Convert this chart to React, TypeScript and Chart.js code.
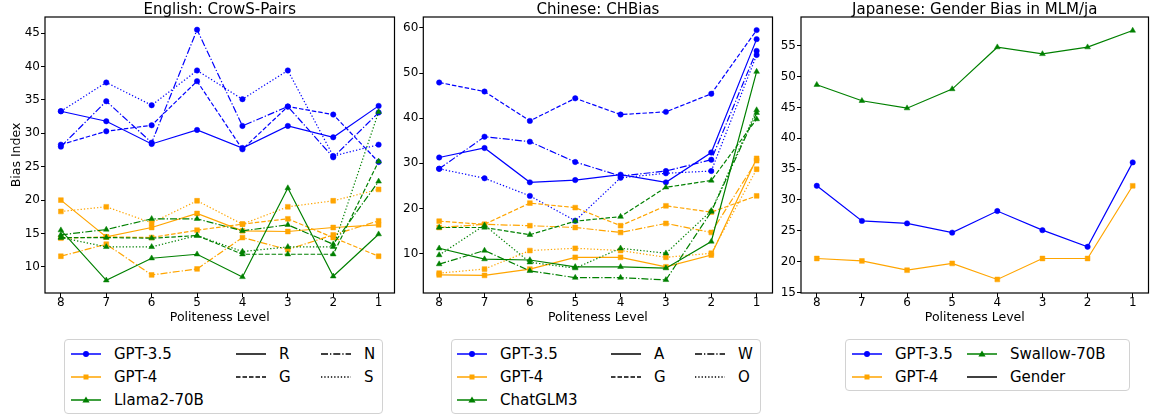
import React, { useEffect, useRef } from "react";
import { Chart, registerables } from "chart.js";

Chart.register(...registerables);
Chart.defaults.font.family = "'DejaVu Sans', sans-serif";

// ---------- data ----------
const LEVELS = ["8", "7", "6", "5", "4", "3", "2", "1"];

// English: CrowS-Pairs (styles R, G, N, S)
const EN_GPT35_R = [33.3, 31.8, 28.4, 30.5, 27.8, 31.1, 29.4, 34.1];
const EN_GPT35_G = [28.3, 30.3, 31.2, 37.8, 27.6, 34.0, 32.8, 25.7];
const EN_GPT35_N = [28.0, 34.8, 28.6, 45.5, 31.1, 34.0, 26.4, 33.1];
const EN_GPT35_S = [33.3, 37.6, 34.2, 39.4, 35.1, 39.4, 26.6, 28.3];
const EN_GPT4_R = [20.0, 14.5, 15.9, 18.0, 15.4, 15.3, 15.9, 16.3];
const EN_GPT4_G = [14.3, 14.5, 14.4, 15.5, 16.4, 17.2, 14.4, 11.6];
const EN_GPT4_N = [11.6, 13.4, 8.8, 9.7, 14.4, 12.6, 14.8, 16.9];
const EN_GPT4_S = [18.3, 19.0, 16.6, 19.9, 16.4, 19.0, 19.9, 21.6];
const EN_LLAMA_R = [15.5, 8.0, 11.3, 11.9, 8.5, 21.8, 8.6, 14.9];
const EN_LLAMA_G = [14.4, 14.4, 14.3, 14.7, 11.9, 11.9, 11.9, 25.8];
const EN_LLAMA_N = [14.8, 15.6, 17.2, 17.2, 15.4, 16.3, 13.4, 22.8];
const EN_LLAMA_S = [14.4, 13.0, 13.0, 14.7, 12.3, 13.0, 13.0, 33.2];

// Chinese: CHBias (styles A, G, W, O)
const ZH_GPT35_A = [31.3, 33.4, 25.8, 26.3, 27.5, 25.8, 32.4, 57.5];
const ZH_GPT35_G = [47.9, 45.9, 39.4, 44.4, 40.8, 41.4, 45.4, 59.5];
const ZH_GPT35_W = [28.8, 35.9, 34.8, 30.3, 27.2, 28.3, 30.8, 54.9];
const ZH_GPT35_O = [28.8, 26.7, 22.8, 17.3, 26.8, 27.8, 28.3, 54.0];
const ZH_GPT4_A = [5.3, 5.2, 6.6, 9.2, 9.2, 7.1, 9.7, 31.1];
const ZH_GPT4_G = [17.2, 16.5, 21.2, 20.2, 16.2, 20.6, 19.2, 22.8];
const ZH_GPT4_W = [15.8, 16.5, 16.2, 15.8, 14.7, 16.7, 14.7, 30.6];
const ZH_GPT4_O = [5.7, 6.6, 10.7, 11.2, 10.7, 9.2, 10.1, 28.7];
const ZH_GLM_A = [11.2, 8.8, 8.6, 7.1, 7.1, 6.8, 12.7, 50.3];
const ZH_GLM_G = [15.8, 15.8, 14.2, 17.2, 18.2, 24.7, 26.2, 39.8];
const ZH_GLM_W = [7.7, 10.7, 6.2, 4.7, 4.7, 4.2, 19.3, 41.2];
const ZH_GLM_O = [9.7, 16.3, 8.1, 6.8, 11.2, 10.1, 19.5, 41.8];

// Japanese: Gender Bias in MLM/ja
const JA_GPT35 = [32.3, 26.6, 26.2, 24.7, 28.2, 25.1, 22.4, 36.1];
const JA_GPT4 = [20.5, 20.1, 18.6, 19.7, 17.1, 20.5, 20.5, 32.3];
const JA_SWALLOW = [48.7, 46.1, 44.9, 48.0, 54.8, 53.7, 54.8, 57.5];

const EN_Y_TICKS = [10, 15, 20, 25, 30, 35, 40, 45];
const ZH_Y_TICKS = [10, 20, 30, 40, 50, 60];
const JA_Y_TICKS = [15, 20, 25, 30, 35, 40, 45, 50, 55];

const EN_MODELS = ["GPT-3.5", "GPT-4", "Llama2-70B"];
const EN_STYLES = ["R", "G", "N", "S"];
const ZH_MODELS = ["GPT-3.5", "GPT-4", "ChatGLM3"];
const ZH_STYLES = ["A", "G", "W", "O"];
const JA_MODELS = ["GPT-3.5", "GPT-4", "Swallow-70B"];
const JA_STYLES = ["Gender"];

// ---------- styling ----------
const BLUE = "#0000ff";
const ORANGE = "#ffa500";
const GREEN = "#008000";
const COLORS = [BLUE, ORANGE, GREEN];
const MARKERS = ["circle", "rect", "triangle"];
const DASHES: number[][] = [[], [4.5, 2], [7, 2, 1.3, 2], [1.3, 2]];
const MARKER_R: Record<string, number> = { circle: 2.7, rect: 3.4, triangle: 3.3 };

type Series = { values: number[]; model: number; style: number };

function makeDatasets(series: Series[]) {
  // reverse so that later models (green) end up drawn on top
  return series
    .slice()
    .reverse()
    .map((s) => {
      const color = COLORS[s.model];
      const marker = MARKERS[s.model];
      return {
        data: s.values.map((v, i) => ({ x: i, y: v })),
        borderColor: color,
        backgroundColor: color,
        borderWidth: 1.2,
        borderDash: DASHES[s.style],
        pointStyle: marker,
        pointRadius: MARKER_R[marker],
        pointBackgroundColor: color,
        pointBorderColor: color,
        pointBorderWidth: 0.5,
        tension: 0,
        fill: false,
      };
    });
}

const EN_SERIES: Series[] = [
  { values: EN_GPT35_R, model: 0, style: 0 },
  { values: EN_GPT35_G, model: 0, style: 1 },
  { values: EN_GPT35_N, model: 0, style: 2 },
  { values: EN_GPT35_S, model: 0, style: 3 },
  { values: EN_GPT4_R, model: 1, style: 0 },
  { values: EN_GPT4_G, model: 1, style: 1 },
  { values: EN_GPT4_N, model: 1, style: 2 },
  { values: EN_GPT4_S, model: 1, style: 3 },
  { values: EN_LLAMA_R, model: 2, style: 0 },
  { values: EN_LLAMA_G, model: 2, style: 1 },
  { values: EN_LLAMA_N, model: 2, style: 2 },
  { values: EN_LLAMA_S, model: 2, style: 3 },
];
const ZH_SERIES: Series[] = [
  { values: ZH_GPT35_A, model: 0, style: 0 },
  { values: ZH_GPT35_G, model: 0, style: 1 },
  { values: ZH_GPT35_W, model: 0, style: 2 },
  { values: ZH_GPT35_O, model: 0, style: 3 },
  { values: ZH_GPT4_A, model: 1, style: 0 },
  { values: ZH_GPT4_G, model: 1, style: 1 },
  { values: ZH_GPT4_W, model: 1, style: 2 },
  { values: ZH_GPT4_O, model: 1, style: 3 },
  { values: ZH_GLM_A, model: 2, style: 0 },
  { values: ZH_GLM_G, model: 2, style: 1 },
  { values: ZH_GLM_W, model: 2, style: 2 },
  { values: ZH_GLM_O, model: 2, style: 3 },
];
const JA_SERIES: Series[] = [
  { values: JA_GPT35, model: 0, style: 0 },
  { values: JA_GPT4, model: 1, style: 0 },
  { values: JA_SWALLOW, model: 2, style: 0 },
];

const frameTitlePlugin = {
  id: "frameTitle",
  afterDraw(chart: any, _args: any, opts: any) {
    const { ctx, chartArea } = chart;
    const { left, right, top, bottom } = chartArea;
    ctx.save();
    ctx.strokeStyle = "#000";
    ctx.lineWidth = 1.2;
    ctx.setLineDash([]);
    ctx.strokeRect(left, top, right - left, bottom - top);
    ctx.fillStyle = "#000";
    ctx.font = "15px 'DejaVu Sans', sans-serif";
    ctx.textAlign = "center";
    ctx.textBaseline = "alphabetic";
    ctx.fillText(opts.text, (left + right) / 2, opts.baseline);
    ctx.restore();
  },
};

type PanelProps = {
  left: number;
  width: number;
  yAxisWidth: number;
  rightPad: number;
  title: string;
  yMin: number;
  yMax: number;
  yTicks: number[];
  yTitle?: string;
  series: Series[];
};

const H = 330;

function Panel(p: PanelProps) {
  const ref = useRef<HTMLCanvasElement>(null);
  useEffect(() => {
    const tickGrid = {
      display: true,
      drawOnChartArea: false,
      drawTicks: true,
      tickLength: 4,
      tickColor: "#000",
      lineWidth: 1,
    };
    const chart = new Chart(ref.current as HTMLCanvasElement, {
      type: "line",
      data: { datasets: makeDatasets(p.series) as any },
      options: {
        responsive: false,
        animation: false,
        events: [],
        layout: { padding: { top: 17, right: p.rightPad, bottom: 0, left: 0 } },
        plugins: {
          legend: { display: false },
          tooltip: { enabled: false },
          frameTitle: { text: p.title, baseline: 13.5 },
        } as any,
        scales: {
          x: {
            type: "linear",
            min: -0.35,
            max: 7.35,
            afterBuildTicks: (s: any) => {
              s.ticks = LEVELS.map((_, i) => ({ value: i }));
            },
            afterFit: (s: any) => {
              s.height = 37;
            },
            ticks: {
              callback: (v: any) => LEVELS[Math.round(Number(v))],
              font: { size: 12, lineHeight: 1 },
              color: "#000",
              padding: 0,
              maxRotation: 0,
              autoSkip: false,
            },
            grid: tickGrid,
            border: { display: false },
            title: {
              display: true,
              text: "Politeness Level",
              font: { size: 12.5, lineHeight: 1 },
              color: "#000",
              padding: { top: 0, bottom: 6.3 },
            },
          },
          y: {
            type: "linear",
            min: p.yMin,
            max: p.yMax,
            afterBuildTicks: (s: any) => {
              s.ticks = p.yTicks.map((v) => ({ value: v }));
            },
            afterFit: (s: any) => {
              s.width = p.yAxisWidth;
            },
            ticks: {
              font: { size: 12, lineHeight: 1 },
              color: "#000",
              padding: 1,
              autoSkip: false,
            },
            grid: tickGrid,
            border: { display: false },
            title: {
              display: !!p.yTitle,
              text: p.yTitle || "",
              font: { size: 12.5, lineHeight: 1 },
              color: "#000",
              padding: { top: 10, bottom: 0 },
            },
          },
        } as any,
      },
      plugins: [frameTitlePlugin],
    });
    return () => chart.destroy();
  }, []);
  return (
    <canvas
      ref={ref}
      width={p.width}
      height={H}
      style={{ position: "absolute", left: p.left, top: 0, width: p.width, height: H }}
    />
  );
}

function Sample({ color, dash, marker }: { color: string; dash: number[]; marker?: string }) {
  return (
    <svg width={30} height={12} style={{ position: "absolute", left: 0, top: -6 }}>
      <line
        x1={0}
        y1={6}
        x2={30}
        y2={6}
        stroke={color}
        strokeWidth={1.5}
        strokeDasharray={dash.length ? dash.join(" ") : undefined}
      />
      {marker === "circle" && <circle cx={15} cy={6} r={3} fill={color} />}
      {marker === "rect" && <rect x={12.5} y={3.5} width={5} height={5} fill={color} />}
      {marker === "triangle" && <polygon points="15,2.5 18.6,8.6 11.4,8.6" fill={color} />}
    </svg>
  );
}

type LegendItem = { label: string; color: string; dash: number[]; marker?: string; col: number; row: number };

function LegendBox({
  left,
  right,
  top,
  bottom,
  cols,
  rows,
  items,
}: {
  left: number;
  right: number;
  top: number;
  bottom: number;
  cols: number[];
  rows: number[];
  items: LegendItem[];
}) {
  return (
    <>
      <div
        style={{
          position: "absolute",
          left,
          top,
          width: right - left,
          height: bottom - top,
          border: "1px solid #d2d2d2",
          borderRadius: 4,
          background: "#fff",
          boxSizing: "border-box",
        }}
      />
      {items.map((it, i) => (
        <div key={i} style={{ position: "absolute", left: cols[it.col], top: rows[it.row] }}>
          <Sample color={it.color} dash={it.dash} marker={it.marker} />
          <span
            style={{
              position: "absolute",
              left: 43,
              top: -9,
              lineHeight: "18px",
              fontSize: 15,
              whiteSpace: "nowrap",
              color: "#000",
            }}
          >
            {it.label}
          </span>
        </div>
      ))}
    </>
  );
}

function buildLegend(models: string[], styles: string[], ncolStyle: boolean): LegendItem[] {
  const items: LegendItem[] = models.map((m, i) => ({
    label: m,
    color: COLORS[i],
    dash: [],
    marker: MARKERS[i],
    col: 0,
    row: i,
  }));
  styles.forEach((s, i) => {
    items.push({
      label: s,
      color: "#000",
      dash: DASHES[i],
      col: ncolStyle ? 1 + Math.floor(i / 2) : 1,
      row: ncolStyle ? i % 2 : 0,
    });
  });
  return items;
}

export default function App() {
  const enLegend = buildLegend(EN_MODELS, EN_STYLES, true);
  const zhLegend = buildLegend(ZH_MODELS, ZH_STYLES, true);
  // Japanese legend: 2 columns (GPT-3.5, GPT-4 | Swallow-70B, Gender)
  const jaLegend: LegendItem[] = [
    { label: JA_MODELS[0], color: BLUE, dash: [], marker: "circle", col: 0, row: 0 },
    { label: JA_MODELS[1], color: ORANGE, dash: [], marker: "rect", col: 0, row: 1 },
    { label: JA_MODELS[2], color: GREEN, dash: [], marker: "triangle", col: 1, row: 0 },
    { label: JA_STYLES[0], color: "#000", dash: [], col: 1, row: 1 },
  ];
  return (
    <div
      style={{
        position: "absolute",
        left: 0,
        top: 0,
        width: 1153,
        height: 416,
        overflow: "hidden",
        background: "#fff",
        fontFamily: "'DejaVu Sans', sans-serif",
      }}
    >
      <Panel
        left={0}
        width={399}
        yAxisWidth={45}
        rightPad={1}
        title="English: CrowS-Pairs"
        yMin={6.1}
        yMax={47.4}
        yTicks={EN_Y_TICKS}
        yTitle="Bias Index"
        series={EN_SERIES}
      />
      <Panel
        left={400}
        width={377}
        yAxisWidth={23.3}
        rightPad={1}
        title="Chinese: CHBias"
        yMin={1.3}
        yMax={62.4}
        yTicks={ZH_Y_TICKS}
        series={ZH_SERIES}
      />
      <Panel
        left={777}
        width={376}
        yAxisWidth={24}
        rightPad={1.2}
        title="Japanese: Gender Bias in MLM/ja"
        yMin={14.9}
        yMax={59.7}
        yTicks={JA_Y_TICKS}
        series={JA_SERIES}
      />
      <LegendBox left={64} right={383} top={339} bottom={414} cols={[71, 236, 321]} rows={[354, 377, 400]} items={enLegend} />
      <LegendBox left={451} right={761} top={339} bottom={414} cols={[457, 611, 695]} rows={[354, 377, 400]} items={zhLegend} />
      <LegendBox left={845} right={1130} top={339} bottom={391} cols={[852, 967]} rows={[354, 377]} items={jaLegend} />
    </div>
  );
}
